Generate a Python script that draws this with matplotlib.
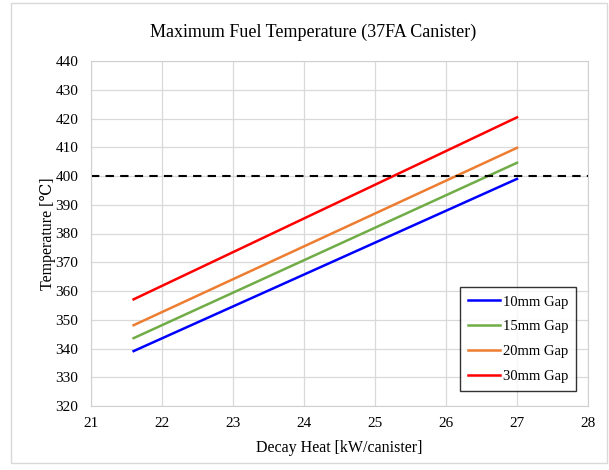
import matplotlib
matplotlib.use("Agg")
import matplotlib.pyplot as plt
from matplotlib.patches import Rectangle

plt.rcParams['font.family'] = ['Liberation Serif', 'DejaVu Serif']

decay_heat = [21.6, 27.0]
gap_labels = ["10mm Gap", "15mm Gap", "20mm Gap", "30mm Gap"]
temps = {
    "10mm Gap": [339.1, 399.0],
    "15mm Gap": [343.6, 404.6],
    "20mm Gap": [348.1, 409.8],
    "30mm Gap": [357.1, 420.4],
}
colors = ["#0000FF", "#70AD47", "#ED7D31", "#FF0000"]
limit = 400
xticks = list(range(21, 29))
yticks = list(range(320, 441, 10))

fig = plt.figure(figsize=(6.09, 4.70), dpi=100)
ax = fig.add_axes([91/609, 1-406/470, 497/609, 345/470])

for lab, c in zip(gap_labels, colors):
    ax.plot(decay_heat, temps[lab], color=c, lw=1.8, label=lab)

ax.axhline(limit, color="black", lw=1.5, ls=(0, (4, 3)))

ax.set_xlim(21, 28)
ax.set_ylim(320, 440)
ax.set_xticks(xticks)
ax.set_yticks(yticks)
ax.grid(True, color="#D9D9D9", lw=0.9)
ax.set_axisbelow(True)
for s in ["top", "right", "left", "bottom"]:
    ax.spines[s].set_color("#D0D0D0")
ax.tick_params(length=0, labelsize=11)
ax.tick_params(axis="x", pad=8)
ax.tick_params(axis="y", pad=9)

fig.text(313/609, 1-32/470, "Maximum Fuel Temperature (37FA Canister)", fontsize=13,
         ha="center", va="center")
ax.set_xlabel("Decay Heat [kW/canister]", fontsize=11.5, labelpad=7)
ax.set_ylabel("Temperature [\u2103]", fontsize=11.5, labelpad=0)

leg = ax.legend(loc="lower right", bbox_to_anchor=(0.976, 0.043), fontsize=10.5,
                frameon=True, fancybox=False, edgecolor="black",
                handlelength=2.2, handletextpad=0.15, labelspacing=0.8,
                borderpad=0.55, borderaxespad=0)
leg.get_frame().set_linewidth(1.0)

fig.patches.append(Rectangle((11/609, 7/470), 596/609, 460/470, transform=fig.transFigure,
                             fill=False, edgecolor="#D9D9D9", lw=1))

fig.savefig("out.png", dpi=100)
